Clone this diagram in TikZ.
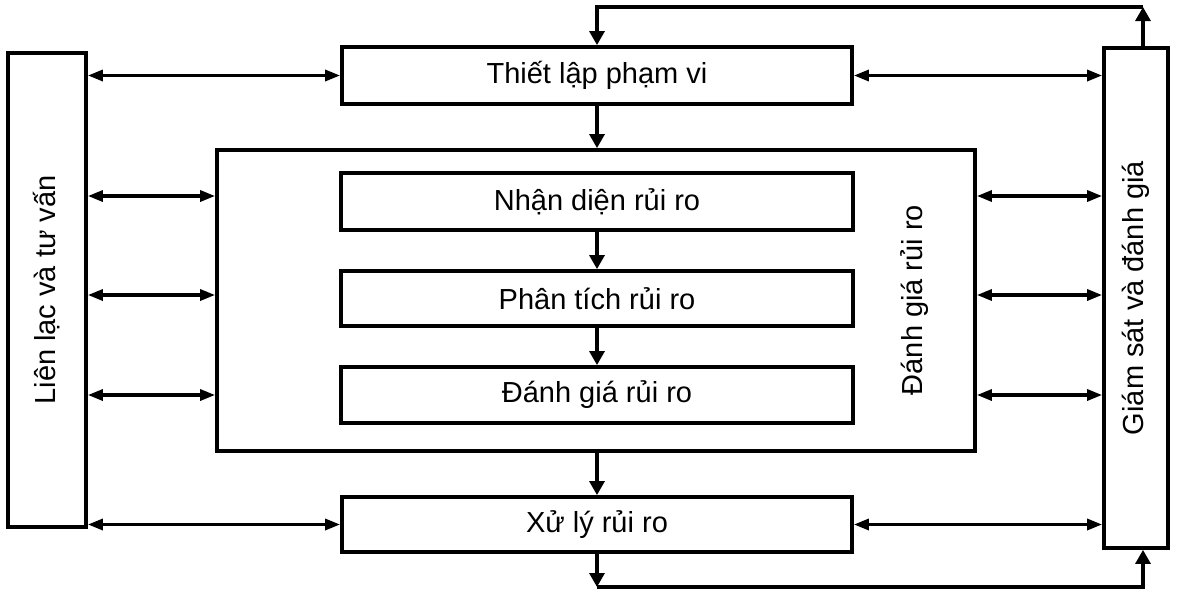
\documentclass[tikz,border=0pt]{standalone}
\usepackage{fontspec}
\setmainfont{Liberation Sans}
\usetikzlibrary{arrows.meta}
\begin{document}
\begin{tikzpicture}[x=0.5pt,y=-0.5pt,
  box/.style={draw, line width=1.9pt, rectangle, inner sep=0pt, font=\fontsize{14.5}{16}\selectfont},
  arr/.style={line width=1.6pt, -{Triangle[length=7pt,width=7.5pt]}},
  darr/.style={line width=1.6pt, {Triangle[length=7.5pt,width=5.5pt]}-{Triangle[length=7.5pt,width=5.5pt]}},
  lbl/.style={font=\fontsize{14.5}{16}\selectfont, rotate=90}]
\useasboundingbox (0,0) rectangle (1179,590);
% side boxes
\node[box, minimum width=39pt, minimum height=237pt] (lien) at (47,290) {};
\node[lbl] (lienT) at (47,290) {Liên lạc và tư vấn};
\node[box, minimum width=32pt, minimum height=250pt] (giam) at (1136,298) {};
\node[lbl] (giamT) at (1136,298) {Giám sát và đánh giá};
% main boxes
\node[box, minimum width=255pt, minimum height=28.5pt] (tl) at (597,75.5) {Thiết lập phạm vi};
\node[box, minimum width=379pt, minimum height=150.5pt] (big) at (596,300.5) {};
\node[lbl] (bigT) at (915,300) {Đánh giá rủi ro};
\node[box, minimum width=256pt, minimum height=28.5pt] (nd) at (597,201.5) {Nhận diện rủi ro};
\node[box, minimum width=256pt, minimum height=27.5pt] (pt) at (597,298.5) {Phân tích rủi ro};
\node[box, minimum width=256pt, minimum height=28pt] (dg) at (597,395) {Đánh giá rủi ro};
\node[box, minimum width=255pt, minimum height=27.5pt] (xl) at (597,524.5) {Xử lý rủi ro};
% vertical flow
\draw[arr] (tl.south) -- (big.north -| tl.south);
\draw[arr] (nd.south) -- (pt.north);
\draw[arr] (pt.south) -- (dg.north);
\draw[arr] (big.south -| xl.north) -- (xl.north);
% feedback loops
\coordinate (tr) at (1143,7);
\coordinate (tc) at (597,7);
\coordinate (br) at (1143,587);
\coordinate (bc) at (597,587);
\draw[arr] (giam.north -| tr) -- (tr);
\draw[arr] (tr) -- (tc) -- (tl.north);
\draw[arr] (xl.south) -- (bc);
\draw[arr] (bc) -- (br) -- (giam.south -| br);
% horizontal double arrows
\coordinate (r1) at (0,196);
\coordinate (r2) at (0,295);
\coordinate (r3) at (0,395);
\draw[darr] (lien.east |- tl.west) -- (tl.west);
\draw[darr] (tl.east) -- (giam.west |- tl.east);
\foreach \r in {r1,r2,r3}{
  \draw[darr] (lien.east |- \r) -- (big.west |- \r);
  \draw[darr] (big.east |- \r) -- (giam.west |- \r);
}
\draw[darr] (lien.east |- xl.west) -- (xl.west);
\draw[darr] (xl.east) -- (giam.west |- xl.east);
\end{tikzpicture}
\end{document}
